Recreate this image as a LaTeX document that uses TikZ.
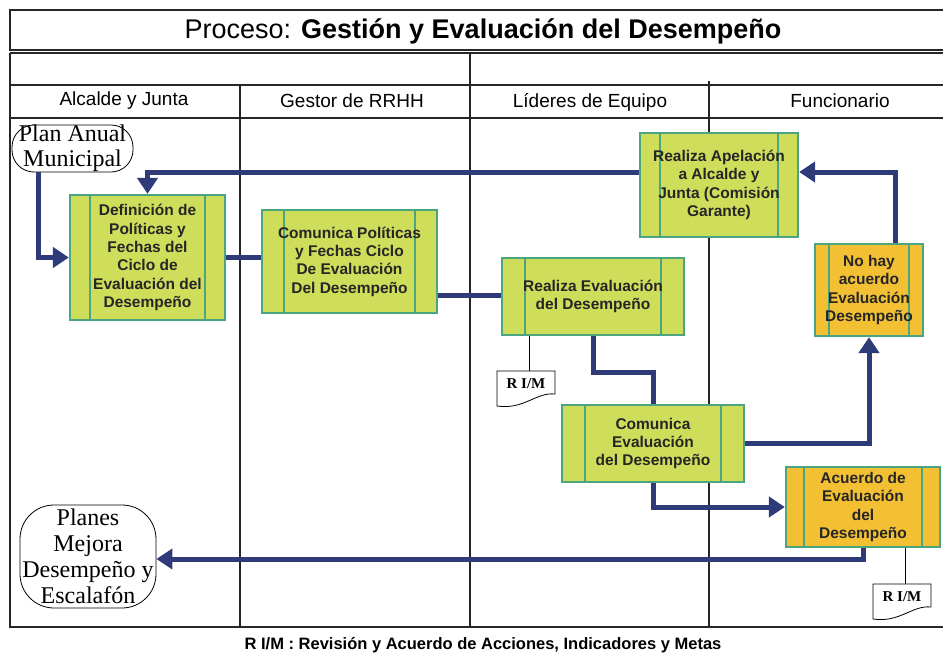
\documentclass[tikz,border=0pt]{standalone}
\usepackage{fontspec}
\setmainfont{Liberation Serif}
\setsansfont{Liberation Sans}
\usetikzlibrary{arrows.meta,calc}
\definecolor{boxgreen}{HTML}{CEDD5A}
\definecolor{boxorange}{HTML}{F3BF33}
\definecolor{boxedge}{HTML}{4BA57F}
\definecolor{navy}{HTML}{2F3B78}
\tikzset{
  proc/.style={draw=boxedge, line width=2.2pt, fill=boxgreen, rectangle, inner sep=0pt,
    align=center, font=\sffamily\bfseries\fontsize{15.5}{18.3}\selectfont, text=black!85},
  side/.style={path picture={
    \draw[boxedge, line width=2pt] ([xshift=#1]path picture bounding box.north west) -- ([xshift=#1]path picture bounding box.south west);
    \draw[boxedge, line width=2pt] ([xshift=-#1]path picture bounding box.north east) -- ([xshift=-#1]path picture bounding box.south east);}},
  orange/.style={fill=boxorange},
  term/.style={draw, line width=0.8pt, rounded corners=#1, align=center, inner sep=0pt,
    font=\fontsize{24}{25}\selectfont},
  flow/.style={navy, line width=5pt},
  flowar/.style={flow, -{Triangle[length=16pt,width=20pt]}},
  doclabel/.style={font=\bfseries\fontsize{15}{16}\selectfont, inner sep=0pt},
  frame/.style={line width=1.2pt, black!85},
  lane/.style={font=\sffamily\fontsize{19}{22}\selectfont},
}
\begin{document}
\begin{tikzpicture}[x=1pt,y=-1pt]
\useasboundingbox (0,0) rectangle (943,656);
% frame
\draw[frame] (943,10) -- (10,10) -- (10,50) -- (943,50);
\draw[frame] (10,53) -- (943,53);
\draw[frame] (10,53) -- (10,627) -- (943,627);
\draw[frame] (10,85) -- (943,85);
\draw[frame] (10,118) -- (943,118);
\draw[frame] (240,85) -- (240,627);
\draw[frame] (470,53) -- (470,627);
\draw[frame] (709,81) -- (709,627);
\node[font=\sffamily\fontsize{27}{30}\selectfont] (title) at (483,31) {Proceso: \textbf{Gestión y Evaluación del Desempeño}};
\node[lane] (l1) at (124,101) {Alcalde y Junta};
\node[lane] (l2) at (352,101) {Gestor de RRHH};
\node[lane] (l3) at (590,102) {Líderes de Equipo};
\node[lane] (l4) at (840,101) {Funcionario};
% terminators
\node[term=22pt, minimum width=121pt, minimum height=47pt] (plan) at (72.5,148.5) {Plan Anual\\Municipal};
\node[term=34pt, minimum width=136pt, minimum height=103pt, font=\fontsize{24}{26}\selectfont] (planes) at (88,556.5) {Planes\\Mejora\\Desempeño y\\Escalafón};
% process boxes
\node[proc, side=20pt, minimum width=155pt, minimum height=125pt] (def) at (147.5,257.5) {Definición de\\Políticas y\\Fechas del\\Ciclo de\\Evaluación del\\Desempeño};
\node[proc, side=22pt, minimum width=175pt, minimum height=103pt] (com) at (349.5,261.5) {Comunica Políticas\\y Fechas Ciclo\\De Evaluación\\Del Desempeño};
\node[proc, side=23pt, minimum width=182pt, minimum height=77pt] (rea) at (593,296.5) {Realiza Evaluación\\del Desempeño};
\node[proc, side=20pt, minimum width=158pt, minimum height=104pt] (ape) at (719,185) {Realiza Apelación\\a Alcalde y\\Junta (Comisión\\Garante)};
\node[proc, orange, side=14pt, minimum width=108pt, minimum height=92pt] (nohay) at (869,290) {No hay\\acuerdo\\Evaluación\\Desempeño};
\node[proc, side=23pt, minimum width=182pt, minimum height=77pt] (cev) at (653,443.5) {Comunica\\Evaluación\\del Desempeño};
\node[proc, orange, side=18pt, minimum width=154pt, minimum height=80pt] (acu) at (863,507) {Acuerdo de\\Evaluación\\del\\Desempeño};
% documents
\node[doclabel] (doc1) at (526,384) {R I/M};
\node[doclabel] (doc2) at (902,597) {R I/M};
\foreach \d in {doc1,doc2}{
  \draw[line width=0.8pt] ($(\d)+(-29,-13)$) -- ($(\d)+(29,-13)$) -- ($(\d)+(29,10)$)
    .. controls ($(\d)+(10,8)$) and ($(\d)+(-2,26)$) .. ($(\d)+(-29,22)$) -- cycle;
}
\coordinate (d1top) at ($(doc1)+(0,-13)$);
\coordinate (d2top) at ($(doc2)+(0,-13)$);
\draw[line width=0.8pt] (rea.south -| d1top) ++(3,0) -- ($(d1top)+(3,0)$);
\draw[line width=0.8pt] (acu.south -| d2top) ++(3,0) -- ($(d2top)+(3,0)$);
% flows
\draw[flowar] (plan.south -| 38,0) |- (def.west);
\draw[flowar] (ape.west |- 0,172) -| (def.north);
\draw[flow] (def.east) -- (def.east -| com.west);
\draw[flow] (com.east |- 0,295) -- (rea.west |- 0,295);
\draw[flow] (rea.south) -- (593,372) -| (cev.north);
\draw[flowar] (cev.east) -| (nohay.south);
\draw[flowar] (nohay.north -| 895,0) |- (ape.east |- 0,172);
\draw[flowar] (cev.south) |- (acu.west);
\draw[flowar] (acu.south) |- (planes.east |- 0,559);
% footer
\node[font=\sffamily\bfseries\fontsize{16.5}{18}\selectfont] (foot) at (483,645) {R I/M : Revisión y Acuerdo de Acciones, Indicadores y Metas};
\end{tikzpicture}
\end{document}
